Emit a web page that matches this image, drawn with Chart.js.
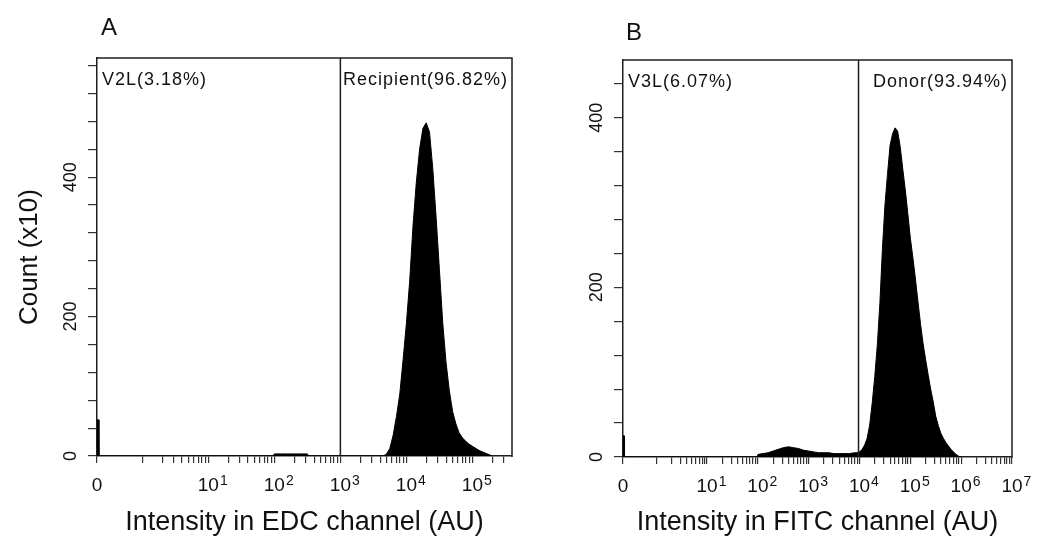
<!DOCTYPE html>
<html>
<head>
<meta charset="utf-8">
<script src="https://cdn.jsdelivr.net/npm/chart.js@4/dist/chart.umd.min.js"></script>
<style>
html,body{margin:0;padding:0;background:#fff;}
#wrap{position:relative;width:1043px;height:537px;overflow:hidden;background:#fff;}
#ca{position:absolute;left:0;top:0;}
#cb{position:absolute;left:530px;top:0;}
</style>
</head>
<body>
<div id="wrap">
  <canvas id="ca" width="530" height="537"></canvas>
  <canvas id="cb" width="513" height="537"></canvas>
</div>
<script>
// ---------- data (x in log10 units of intensity; y = count x10) ----------
const panelLetters = ['A', 'B'];
const xTitles = ['Intensity in EDC channel (AU)', 'Intensity in FITC channel (AU)'];
const yTitle = 'Count (x10)';
const gateLabelsA = ['V2L(3.18%)', 'Recipient(96.82%)'];
const gateLabelsB = ['V3L(6.07%)', 'Donor(93.94%)'];
const yTickLabels = [0, 200, 400];
const yTickStep = 40;
const decadesA = [1, 2, 3, 4, 5];
const decadesB = [1, 2, 3, 4, 5, 6, 7];
const xRangeA = [-0.687, 5.6];
const xRangeB = [-0.654, 7.0];
const yMaxA = 571;
const yMaxB = 468;
const gateA = 3.0;
const gateB = 3.98;

const logA = [-0.687, -0.677, -0.667, -0.657, 1.98, 2.0, 2.1, 2.2, 2.3, 2.4, 2.5, 2.52,
  3.65, 3.70, 3.75, 3.80, 3.85, 3.90, 3.95, 4.00, 4.05, 4.10, 4.15, 4.20, 4.25, 4.30,
  4.35, 4.40, 4.45, 4.50, 4.55, 4.60, 4.65, 4.70, 4.75, 4.80, 4.85, 4.90, 4.95, 5.00,
  5.05, 5.10, 5.15, 5.20, 5.25, 5.30];
const countA = [52, 52, 52, 0, 0, 3, 3, 3, 3, 3, 3, 0,
  0, 3, 11, 30, 57, 89, 138, 190, 251, 330, 392, 440, 470, 478,
  465, 412, 343, 268, 192, 135, 94, 64, 46, 33, 26, 21, 17, 14,
  11, 8, 6, 4, 2, 0];

const logB = [-0.654, -0.644, -0.634, -0.624, 1.98, 2.0, 2.1, 2.2, 2.3, 2.4, 2.5, 2.6, 2.7, 2.8, 2.9,
  3.0, 3.1, 3.2, 3.3, 3.4, 3.5, 3.6, 3.7, 3.8, 3.9, 3.95,
  4.00, 4.05, 4.10, 4.15, 4.20, 4.25, 4.30, 4.35, 4.40, 4.45, 4.50, 4.55, 4.60, 4.65,
  4.70, 4.75, 4.80, 4.85, 4.90, 4.95, 5.00, 5.05, 5.10, 5.15, 5.20, 5.25, 5.30, 5.35,
  5.40, 5.45, 5.50, 5.55, 5.60, 5.65, 5.70, 5.75, 5.80, 5.85, 5.90, 5.95, 6.00];
const countB = [25, 25, 25, 0, 0, 3, 4, 5, 7, 9, 11, 12, 11, 10, 8,
  7, 6, 5, 5, 5, 4, 4, 4, 4, 5, 5,
  6, 9, 14, 22, 38, 64, 95, 132, 181, 245, 297, 333, 367, 381,
  388, 384, 366, 340, 315, 287, 258, 235, 210, 183, 157, 134, 115, 97,
  80, 65, 48, 37, 28, 22, 17, 13, 9, 6, 3, 1, 0];

// ---------- rendering ----------
const FONT = '"Liberation Sans", Arial, Helvetica, sans-serif';
Chart.defaults.font.family = FONT;
Chart.defaults.color = '#1a1a1a';
const INK = '#1e1e1e';

function logTickValues(range) {
  const vals = [range[0]];
  for (let d = 0; d <= Math.ceil(range[1]); d++) {
    for (let k = 1; k <= 9; k++) {
      const v = d + Math.log10(k);
      if (v <= range[1] + 1e-6) vals.push(v);
    }
  }
  return vals;
}

const deco = {
  id: 'deco',
  afterDraw(chart, args, o) {
    const {ctx, chartArea: ca, scales: {x, y}} = chart;
    ctx.save();
    // box top + right
    ctx.strokeStyle = INK; ctx.lineWidth = 1.5;
    ctx.beginPath();
    ctx.moveTo(ca.left, ca.top); ctx.lineTo(ca.right, ca.top); ctx.lineTo(ca.right, ca.bottom + 1);
    ctx.stroke();
    ctx.fillStyle = '#111';
    // panel letter
    ctx.font = '24px ' + FONT;
    ctx.textAlign = 'left'; ctx.textBaseline = 'alphabetic';
    ctx.fillText(o.letter, o.letterX, o.letterY);
    // gate labels
    ctx.font = '18px ' + FONT;
    try { ctx.letterSpacing = '1px'; } catch (e) {}
    ctx.fillText(o.gateLabels[0], ca.left + 5, ca.top + 27);
    ctx.textAlign = 'right';
    ctx.fillText(o.gateLabels[1], ca.right - 4, ca.top + 27);
    try { ctx.letterSpacing = '0px'; } catch (e) {}
    // y tick labels (rotated)
    ctx.font = '18px ' + FONT;
    for (const v of o.yLabels) {
      const py = y.getPixelForValue(v);
      ctx.save();
      ctx.translate(ca.left - 26, py);
      ctx.rotate(-Math.PI / 2);
      ctx.textAlign = 'center'; ctx.textBaseline = 'middle';
      ctx.fillText(String(v), 0, 0);
      ctx.restore();
    }
    // x tick labels: 0, 10^d
    const base = ca.bottom + 35;
    ctx.textBaseline = 'alphabetic';
    ctx.font = '19px ' + FONT; ctx.textAlign = 'center';
    ctx.fillText('0', x.getPixelForValue(x.min), base);
    for (const d of o.decades) {
      const px = x.getPixelForValue(d);
      ctx.font = '19px ' + FONT; ctx.textAlign = 'center';
      ctx.fillText('10', px, base);
      const w = ctx.measureText('10').width;
      ctx.font = '14px ' + FONT; ctx.textAlign = 'left';
      ctx.fillText(String(d), px + w / 2 + 1, base - 6);
    }
    ctx.restore();
  }
};

function makePanel(id, p) {
  const hist = p.logs.map((v, i) => ({x: v, y: p.counts[i]}));
  const gate = [{x: p.gate, y: 0}, {x: p.gate, y: p.yMax}];
  const yTicks = [];
  for (let v = 0; v <= p.yMax; v += yTickStep) yTicks.push(v);
  const xTicks = logTickValues(p.xRange);
  return new Chart(document.getElementById(id), {
    type: 'line',
    data: {
      datasets: [
        {data: gate, borderColor: INK, borderWidth: 1.5, pointRadius: 0, fill: false},
        {data: hist, borderColor: '#000', backgroundColor: '#000',
         borderWidth: 1, pointRadius: 0, fill: 'origin', tension: 0}
      ]
    },
    options: {
      responsive: false, animation: false,
      layout: {padding: p.padding},
      plugins: {
        legend: {display: false}, tooltip: {enabled: false},
        deco: {letter: p.letter, letterX: p.letterX, letterY: p.letterY,
               gateLabels: p.gateLabels, yLabels: yTickLabels, decades: p.decades}
      },
      scales: {
        x: {
          type: 'linear', min: p.xRange[0], max: p.xRange[1],
          afterBuildTicks: (s) => { s.ticks = xTicks.map(v => ({value: v})); },
          ticks: {display: false},
          grid: {drawOnChartArea: false, drawTicks: true, tickLength: 7, color: '#333', lineWidth: 1.2},
          border: {display: true, color: INK, width: 1.5},
          title: {display: true, text: p.xTitle, color: '#111',
                  font: {size: 27, lineHeight: 1}, padding: {top: p.xTitlePadTop, bottom: 1}}
        },
        y: {
          type: 'linear', min: 0, max: p.yMax,
          afterBuildTicks: (s) => { s.ticks = yTicks.map(v => ({value: v})); },
          ticks: {display: false},
          grid: {drawOnChartArea: false, drawTicks: true, tickLength: 9, color: '#333', lineWidth: 1.2},
          border: {display: true, color: INK, width: 1.5},
          title: p.yTitle ? {display: true, text: p.yTitle, color: '#111',
                  font: {size: 26, lineHeight: 1}, padding: {top: 17, bottom: 45}} : {display: false}
        }
      }
    },
    plugins: [deco]
  });
}

makePanel('ca', {
  letter: panelLetters[0], letterX: 101, letterY: 35,
  logs: logA, counts: countA, gate: gateA, yMax: yMaxA, xRange: xRangeA,
  decades: decadesA, gateLabels: gateLabelsA, xTitle: xTitles[0], yTitle: yTitle,
  xTitlePadTop: 46, padding: {left: 0, top: 58, right: 18, bottom: 0}
});
makePanel('cb', {
  letter: panelLetters[1], letterX: 96, letterY: 40,
  logs: logB, counts: countB, gate: gateB, yMax: yMaxB, xRange: xRangeB,
  decades: decadesB, gateLabels: gateLabelsB, xTitle: xTitles[1], yTitle: null,
  xTitlePadTop: 45, padding: {left: 84, top: 60, right: 31, bottom: 0}
});
</script>
</body>
</html>
